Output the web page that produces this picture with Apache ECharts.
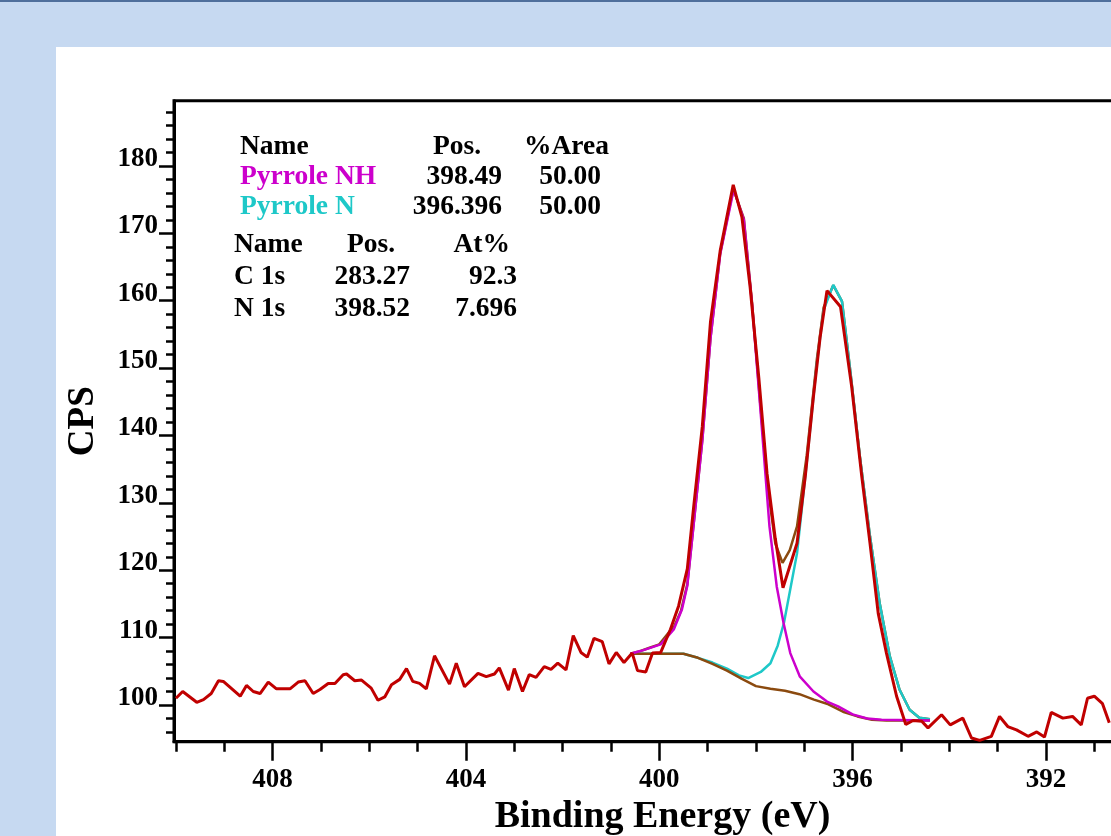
<!DOCTYPE html>
<html>
<head>
<meta charset="utf-8">
<script src="https://cdn.jsdelivr.net/npm/echarts@6/dist/echarts.min.js"></script>
<style>
  html, body { margin: 0; padding: 0; width: 1111px; height: 836px; overflow: hidden; background: #c6d9f1; }
  #topline { position: absolute; left: 0; top: 0; width: 1111px; height: 2px; background: #4f6f9c; }
  #panel { position: absolute; left: 56px; top: 47px; width: 1055px; height: 789px; background: #ffffff; }
  #chart { position: absolute; left: 0; top: 0; width: 1111px; height: 836px; }
</style>
</head>
<body>
<div id="topline"></div>
<div id="panel"></div>
<div id="chart"></div>
<script>
// ---- Data (Binding Energy eV, CPS) ----
const measured = [
  [410.0, 101.0], [409.86, 102.0], [409.57, 100.4], [409.43, 100.8], [409.27, 101.7],
  [409.12, 103.6], [409.02, 103.5], [408.67, 101.3], [408.54, 102.9], [408.40, 102.0],
  [408.26, 101.7], [408.09, 103.4], [407.92, 102.4], [407.64, 102.4], [407.47, 103.4],
  [407.33, 103.6], [407.16, 101.7], [407.02, 102.3], [406.85, 103.2], [406.71, 103.2],
  [406.54, 104.5], [406.47, 104.6], [406.30, 103.6], [406.16, 103.7], [405.96, 102.5],
  [405.82, 100.7], [405.68, 101.2], [405.54, 103.0], [405.37, 103.8], [405.23, 105.4],
  [405.10, 103.5], [404.96, 103.2], [404.82, 102.4], [404.65, 107.3], [404.34, 103.1],
  [404.20, 106.2], [404.03, 102.7], [403.75, 104.7], [403.58, 104.2], [403.41, 104.6],
  [403.31, 105.5], [403.12, 102.2], [403.00, 105.4], [402.83, 102.0], [402.69, 104.5],
  [402.55, 104.1], [402.38, 105.7], [402.24, 105.3], [402.10, 106.2], [401.93, 105.2],
  [401.78, 110.3], [401.62, 107.8], [401.49, 107.1], [401.35, 109.9], [401.18, 109.4],
  [401.04, 106.1], [400.89, 107.8], [400.73, 106.3], [400.56, 107.7], [400.45, 105.1],
  [400.28, 104.9], [400.14, 107.7], [399.97, 107.8], [399.77, 111.2], [399.60, 114.7],
  [399.42, 120.2], [399.29, 129.3], [399.11, 141.3], [398.94, 156.9], [398.74, 167.4],
  [398.47, 177.2], [398.29, 172.4], [398.12, 162.0], [397.94, 148.5], [397.77, 134.3],
  [397.60, 124.7], [397.44, 117.4], [397.15, 124.0], [396.98, 133.9], [396.81, 145.8],
  [396.67, 154.7], [396.53, 161.5], [396.25, 159.1], [396.02, 147.3], [395.81, 133.9],
  [395.64, 124.0], [395.47, 113.6], [395.30, 107.7], [395.09, 101.3], [394.90, 97.1],
  [394.75, 97.7], [394.57, 97.6], [394.44, 96.6], [394.16, 98.55], [393.98, 97.05],
  [393.72, 98.05], [393.54, 95.1], [393.37, 94.75], [393.13, 95.35], [392.96, 98.3],
  [392.79, 96.8], [392.61, 96.3], [392.37, 95.35], [392.19, 96.0], [392.03, 95.25],
  [391.89, 98.9], [391.65, 98.05], [391.45, 98.3], [391.27, 97.05], [391.14, 101.0],
  [391.00, 101.3], [390.83, 100.2], [390.69, 97.35]
];

const background = [
  [400.60, 107.6], [399.50, 107.6], [399.20, 107.0], [398.90, 106.1], [398.60, 105.1],
  [398.30, 103.9], [398.00, 102.8], [397.70, 102.4], [397.40, 102.1], [397.10, 101.6],
  [396.80, 100.8], [396.50, 100.1], [396.20, 99.0], [395.90, 98.3], [395.60, 97.8],
  [395.30, 97.7], [394.40, 97.7]
];

const pyrroleNH = [
  [400.60, 107.6], [400.39, 108.0], [399.97, 109.0], [399.70, 111.2], [399.53, 114.2],
  [399.42, 117.7], [399.29, 126.7], [399.11, 139.2], [398.94, 154.4], [398.74, 166.9],
  [398.46, 176.5], [398.25, 172.0], [398.08, 159.4], [397.91, 144.1], [397.72, 126.5],
  [397.57, 117.6], [397.43, 112.2], [397.29, 107.7], [397.09, 104.2], [396.81, 102.0],
  [396.53, 100.5], [396.30, 99.8], [396.00, 98.6], [395.70, 98.0], [395.40, 97.8],
  [394.40, 97.7]
];

const pyrroleN = [
  [400.60, 107.6], [399.50, 107.6], [399.20, 107.0], [398.90, 106.3], [398.60, 105.4],
  [398.35, 104.4], [398.16, 104.0], [397.90, 104.9], [397.70, 106.2], [397.55, 108.8],
  [397.42, 112.2], [397.15, 122.5], [396.95, 135.9], [396.74, 150.7], [396.60, 158.6],
  [396.40, 162.35], [396.22, 159.9], [396.05, 149.7], [395.85, 136.9], [395.64, 125.0],
  [395.44, 115.1], [395.23, 107.2], [395.03, 102.3], [394.82, 99.3], [394.62, 98.1],
  [394.40, 97.9]
];

const envelope = [
  [400.60, 107.6], [400.40, 108.0], [400.20, 108.5], [400.00, 109.0], [399.80, 110.8],
  [399.70, 111.5], [399.55, 114.0], [399.42, 117.9], [399.29, 126.8], [399.11, 139.3],
  [398.94, 154.5], [398.74, 167.0], [398.47, 176.6], [398.25, 172.2], [398.08, 159.7],
  [397.91, 144.6], [397.74, 131.5], [397.60, 124.0], [397.45, 121.1], [397.30, 123.0],
  [397.15, 126.5], [396.95, 137.0], [396.74, 151.3], [396.60, 159.0], [396.40, 162.3],
  [396.22, 159.9], [396.05, 149.7], [395.85, 136.9], [395.64, 125.0], [395.44, 115.1],
  [395.23, 107.2], [395.03, 102.3], [394.82, 99.3], [394.62, 98.1], [394.40, 97.9]
];

const xTickLabels = [392, 396, 400, 404, 408];
const xMinorTicks = [391, 393, 394, 395, 397, 398, 399, 401, 402, 403, 405, 406, 407, 409, 410];
const yTickLabels = [100, 110, 120, 130, 140, 150, 160, 170, 180];
const yMinorTicks = [96, 98, 102, 104, 106, 108, 112, 114, 116, 118, 122, 124, 126, 128,
  132, 134, 136, 138, 142, 144, 146, 148, 152, 154, 156, 158, 162, 164, 166, 168,
  172, 174, 176, 178, 182, 184, 186, 188];

const peakTable = [
  ['Name', 'Pos.', '%Area'],
  ['Pyrrole NH', '398.49', '50.00'],
  ['Pyrrole N', '396.396', '50.00']
];
const quantTable = [
  ['Name', 'Pos.', 'At%'],
  ['C 1s', '283.27', '92.3'],
  ['N 1s', '398.52', '7.696']
];

// ---- Styles ----
const FONT = '"Liberation Serif", "Times New Roman", serif';
const RED = '#c00000', MAGENTA = '#cc00cc', CYAN = '#1ec8c8', BROWN = '#8b4a0f';

const chart = echarts.init(document.getElementById('chart'), null, { renderer: 'canvas' });

function txt(text, x, y, align, color) {
  return {
    type: 'text', x: x, y: y, z: 100,
    style: {
      text: text, fill: color || '#000',
      font: 'bold 27.5px ' + FONT,
      align: align, textAlign: align,
      verticalAlign: 'middle', textVerticalAlign: 'middle'
    }
  };
}

const graphics = [];
const t1Colors = ['#000', MAGENTA, CYAN];
const t1Y = [147, 177, 207];
peakTable.forEach((row, i) => {
  graphics.push(txt(row[0], 240, t1Y[i], 'left', t1Colors[i]));
  graphics.push(txt(row[1], i === 0 ? 481 : 502, t1Y[i], 'right'));
  graphics.push(txt(row[2], i === 0 ? 609 : 601, t1Y[i], 'right'));
});
const t2Y = [245, 277, 309];
quantTable.forEach((row, i) => {
  graphics.push(txt(row[0], 234, t2Y[i], 'left'));
  graphics.push(txt(row[1], i === 0 ? 395 : 410, t2Y[i], 'right'));
  graphics.push(txt(row[2], i === 0 ? 510 : 517, t2Y[i], 'right'));
});

const lineSeries = (name, data, color, width, z) => ({
  name: name, type: 'line', data: data, showSymbol: false, symbol: 'none',
  lineStyle: { color: color, width: width }, itemStyle: { color: color },
  z: z, animation: false, clip: true
});

chart.setOption({
  backgroundColor: 'transparent',
  animation: false,
  grid: {
    left: 174, top: 100.7, width: 943, bottom: 94.3,
    containLabel: false, outerBoundsMode: 'none',
    show: true, borderColor: '#000', borderWidth: 3, backgroundColor: 'transparent'
  },
  xAxis: [
    {
      type: 'value', inverse: true, min: 390.53, max: 410.04,
      name: 'Binding Energy (eV)', nameLocation: 'middle', nameGap: 49,
      nameTextStyle: { fontFamily: FONT, fontWeight: 'bold', fontSize: 38, color: '#000', padding: [0, 0, 0, 34], lineHeight: 38 },
      axisLine: { show: true, onZero: false, lineStyle: { color: '#000', width: 3 } },
      axisTick: { show: true, inside: false, length: 19, customValues: xTickLabels, lineStyle: { color: '#000', width: 2.5 } },
      axisLabel: { show: true, customValues: xTickLabels, margin: 25, fontFamily: FONT, fontWeight: 'bold', fontSize: 27, color: '#000', lineHeight: 27 },
      splitLine: { show: false }
    },
    {
      type: 'value', inverse: true, min: 390.53, max: 410.04, position: 'bottom',
      axisLine: { show: false, onZero: false },
      axisTick: { show: true, inside: false, length: 10, customValues: xMinorTicks, lineStyle: { color: '#000', width: 2.5 } },
      axisLabel: { show: false },
      splitLine: { show: false }
    }
  ],
  yAxis: [
    {
      type: 'value', min: 94.55, max: 189.69,
      name: 'CPS', nameLocation: 'middle', nameGap: 72,
      nameTextStyle: { fontFamily: FONT, fontWeight: 'bold', fontSize: 37, color: '#000' },
      axisLine: { show: true, onZero: false, lineStyle: { color: '#000', width: 3 } },
      axisTick: { show: true, inside: false, length: 15, customValues: yTickLabels, lineStyle: { color: '#000', width: 2.5 } },
      axisLabel: { show: true, customValues: yTickLabels, margin: 16, verticalAlign: 'bottom', lineHeight: 14, fontFamily: FONT, fontWeight: 'bold', fontSize: 27, color: '#000' },
      splitLine: { show: false }
    },
    {
      type: 'value', min: 94.55, max: 189.69, position: 'left',
      axisLine: { show: false, onZero: false },
      axisTick: { show: true, inside: false, length: 8, customValues: yMinorTicks, lineStyle: { color: '#000', width: 2.5 } },
      axisLabel: { show: false },
      splitLine: { show: false }
    }
  ],
  series: [
    lineSeries('Envelope', envelope, BROWN, 2.5, 2),
    lineSeries('Pyrrole N', pyrroleN, CYAN, 2.5, 3),
    lineSeries('Background', background, BROWN, 2.5, 4),
    lineSeries('Pyrrole NH', pyrroleNH, MAGENTA, 2.5, 5),
    lineSeries('Measured', measured, RED, 3, 6)
  ],
  graphic: graphics
});
</script>
</body>
</html>
